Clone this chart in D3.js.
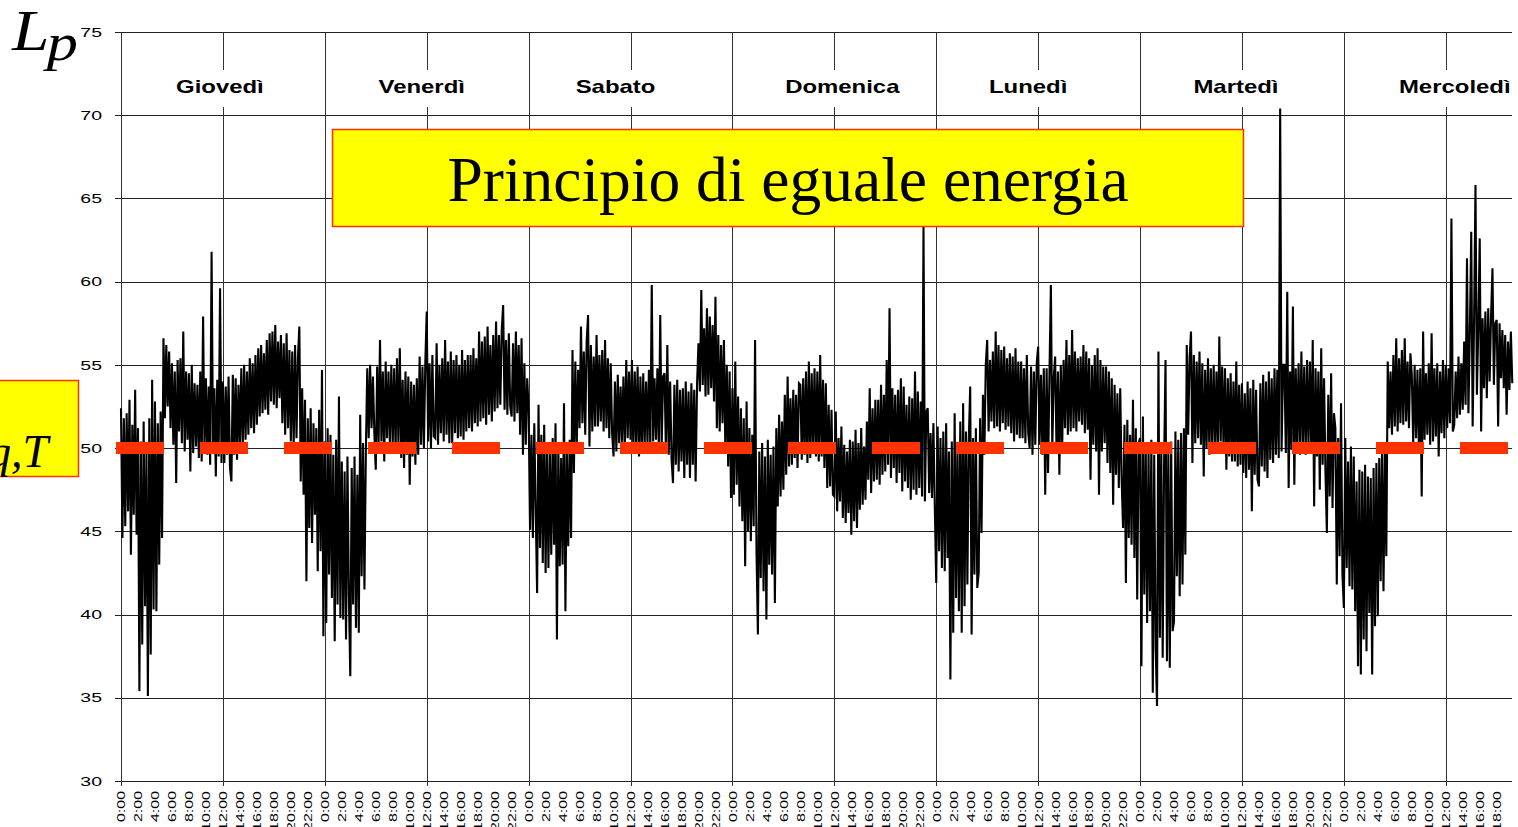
<!DOCTYPE html>
<html><head><meta charset="utf-8">
<script src="https://cdn.jsdelivr.net/npm/d3@7"></script>
<style>
html,body{margin:0;padding:0;background:#fff;overflow:hidden;}
svg{display:block;}
</style></head><body>
<svg id="chart" width="1518" height="827"></svg>
<script>
// ---------- data ----------
const days = ["Giovedì","Venerdì","Sabato","Domenica","Lunedì","Martedì","Mercoledì"];
const hourLabels = ["0:00","2:00","4:00","6:00","8:00","10:00","12:00","14:00","16:00","18:00","20:00","22:00"];
const yTicks = [30,35,40,45,50,55,60,65,70,75];
const leqValue = 50;
const titleText = "Principio di eguale energia";
const stepHours = 1 / 6; // one reading every 10 minutes

const thu = [52.4,44.6,51.8,45.3,52.1,46.2, 52.9,43.6,51.4,46.0,53.5,44.8, 51.2,35.4,50.4,38.2,51.6,40.5, 49.8,35.1,51.8,37.6,54.1,40.3, 52.8,40.2,51.5,43.0,52.2,44.6, 56.6,51.8,56.2,52.5,55.8,51.2, 55.1,50.2,54.6,47.9,55.3,51.0, 55.4,50.3,57.0,49.8,54.6,50.5, 54.5,48.6,55.0,49.7,53.9,50.1, 53.8,49.4,54.6,49.2,57.9,49.8, 54.2,49.6,53.7,49.0,61.8,50.2, 53.6,48.3,54.1,49.5,59.6,49.1, 54.0,49.1,53.7,49.6,54.3,48.8, 48.0,54.4,49.6,54.2,49.3,53.8, 50.2,54.8,49.9,55.0,50.5,54.6, 50.8,55.4,51.2,55.1,50.9,55.6, 51.4,56.0,51.9,56.2,52.1,55.7, 52.3,56.5,52.0,56.9,52.8,57.0, 52.6,57.4,52.4,56.4,53.0,56.8, 51.5,56.3,50.8,56.9,51.2,55.9, 50.4,55.8,50.1,56.2,50.6,55.4, 57.3,48.0,53.6,47.2,52.9,42.0, 51.8,45.2,52.4,44.3,51.5,46.0, 51.2,42.6,52.3,43.8,54.7,38.7];
const fri = [50.4,39.5,51.2,42.4,50.8,41.0, 49.6,38.4,50.5,40.6,53.1,39.8, 49.2,39.7,48.6,38.5,49.5,41.2, 36.3,48.8,40.6,49.5,39.2,48.4, 38.9,52.0,42.3,50.3,41.5,49.8, 54.8,50.6,55.0,51.2,54.3,50.9, 48.7,54.9,50.2,56.5,50.4,54.6, 49.2,55.2,50.6,54.6,50.1,55.0, 50.3,54.8,49.8,55.4,50.2,56.0, 49.4,54.1,48.8,54.6,49.6,54.3, 47.8,54.0,49.5,53.8,49.0,54.2, 49.6,55.5,50.2,54.9,50.0,55.1, 58.2,50.4,55.1,50.0,55.6,50.7, 50.6,56.3,50.2,55.0,50.9,55.4, 50.4,56.5,50.8,55.2,50.3,55.8, 50.3,55.3,50.9,55.6,50.6,55.0, 50.7,55.9,50.5,55.3,51.0,55.6, 51.2,55.6,51.0,56.0,51.5,55.4, 51.3,57.0,51.6,56.4,51.8,56.7, 51.4,57.3,52.0,56.2,51.6,56.8, 52.2,57.6,52.4,56.8,52.6,57.1, 58.6,52.3,56.5,52.0,56.9,52.5, 51.9,56.3,51.6,57.0,52.1,56.2, 50.8,56.6,49.6,55.1,50.2,54.2];
const sat = [52.3,45.1,50.8,44.6,51.5,46.3, 41.3,52.6,44.0,50.8,43.1,51.4, 42.5,50.1,42.8,49.7,43.6,50.6, 44.2,51.5,38.5,50.2,42.9,49.4, 43.0,52.7,40.2,49.8,44.1,50.5, 44.6,55.9,48.5,55.2,50.1,54.7, 51.2,57.3,51.5,55.8,50.8,56.4, 58.0,50.1,56.2,51.0,55.5,51.3, 56.8,51.3,55.6,51.6,55.9,51.0, 56.5,51.2,55.4,50.6,55.1,50.9, 49.5,54.0,49.8,54.4,50.3,53.7, 50.2,54.3,50.0,55.3,50.6,54.6, 50.5,55.3,49.8,54.6,50.1,54.9, 49.5,54.3,49.7,54.5,50.2,54.0, 50.2,54.7,50.0,59.8,50.4,54.2, 50.5,54.8,49.9,58.0,50.1,54.3, 54.5,49.8,56.2,49.6,54.0,49.3, 47.9,53.8,49.0,54.1,48.6,53.5, 49.2,53.6,48.2,54.0,49.0,53.4, 48.2,53.9,49.0,53.5,48.0,53.8, 56.3,53.4,59.5,53.8,57.2,53.1, 58.4,53.2,57.9,53.6,57.4,52.8, 59.1,51.2,56.8,51.0,56.2,51.5, 56.5,49.8,55.0,48.9,54.6,47.0];
const sun = [53.6,47.2,55.2,47.8,53.1,46.5, 52.4,45.6,51.8,42.9,52.8,45.0, 51.2,44.4,50.8,45.3,56.5,43.8, 38.8,49.8,42.2,50.3,41.4,49.5, 39.7,50.5,43.0,49.6,42.4,50.1, 40.7,51.2,46.5,52.0,47.1,51.6, 47.5,53.2,48.4,54.3,48.9,53.0, 49.0,53.5,49.4,53.2,48.8,53.9, 53.8,49.3,54.2,49.6,54.6,49.1, 55.2,49.4,54.5,49.8,54.8,49.5, 54.6,49.2,55.6,49.5,54.1,48.8, 53.9,47.6,52.6,47.7,52.3,47.2, 47.1,52.2,46.2,50.6,46.8,51.3, 45.8,50.2,45.5,49.8,46.1,50.5, 44.8,50.4,45.6,51.1,45.2,50.3, 46.3,51.2,46.6,50.1,46.9,51.6, 48.1,53.6,47.3,52.4,48.0,52.9, 48.1,52.9,47.8,53.8,48.4,53.2, 48.6,55.3,49.0,58.4,48.2,53.6, 48.8,53.2,47.9,53.5,48.5,54.2, 47.4,53.7,48.0,52.6,47.6,53.1, 46.9,53.0,47.5,54.6,47.2,53.4, 47.6,52.8,47.1,63.3,46.8,52.2, 52.4,47.3,50.9,47.0,51.5,46.4];
const mon = [41.9,51.3,43.8,50.6,42.8,51.0, 42.6,51.5,43.4,49.8,36.1,50.4, 38.9,52.1,41.0,50.2,40.2,51.6, 38.9,52.7,40.5,51.0,41.8,50.5, 53.7,38.8,50.6,42.4,51.2,41.6, 42.5,51.8,44.9,53.2,49.6,55.0, 56.5,51.0,55.3,51.6,55.8,51.2, 57.0,51.3,56.2,51.0,55.9,51.5, 56.1,51.1,55.4,51.3,55.7,50.9, 55.5,50.4,56.0,50.8,55.2,50.6, 55.2,50.6,54.8,50.3,55.6,50.9, 50.0,54.9,49.6,54.6,50.2,55.1, 56.1,50.2,54.4,49.6,54.8,47.2, 54.8,48.5,54.5,59.8,50.0,54.2, 55.5,49.8,54.6,48.4,55.0,50.1, 55.3,51.2,56.5,50.8,55.6,51.0, 57.1,51.2,55.8,51.0,55.4,51.6, 55.5,51.4,56.2,50.9,55.8,51.1, 55.4,48.1,55.0,50.2,55.6,49.8, 56.0,47.2,55.3,49.8,54.9,50.3, 54.9,49.1,54.6,48.5,54.2,46.6, 53.8,48.4,53.3,47.6,53.6,48.1, 45.2,51.4,41.9,51.7,44.6,50.8, 44.2,52.9,43.4,51.2,40.9,50.3];
const tue = [50.6,36.9,51.9,41.2,50.3,39.5, 49.8,40.2,50.5,35.3,49.6,38.1, 34.5,55.8,38.6,50.2,37.4,49.1, 55.3,37.2,49.8,36.8,50.4,39.0, 39.6,51.0,42.3,50.5,41.1,50.9, 41.8,51.2,43.6,56.2,50.8,55.4, 57.0,49.1,55.6,50.3,55.2,50.6, 55.8,50.2,55.1,48.3,54.7,50.0, 55.4,49.6,54.8,50.1,55.0,49.8, 54.6,49.8,56.7,50.4,54.9,49.9, 54.8,48.7,54.2,49.5,54.5,49.2, 54.0,49.2,55.2,48.9,53.8,49.0, 53.9,48.5,53.3,48.2,54.0,48.7, 53.6,46.2,54.1,48.4,53.5,48.1, 47.7,53.9,48.9,54.4,48.6,54.0, 48.2,54.6,49.3,54.2,49.1,54.8, 49.6,54.7,49.4,70.4,49.8,55.0, 55.0,49.7,59.4,47.6,54.6,49.9, 58.5,47.8,54.8,50.2,55.1,49.6, 55.8,50.1,54.9,49.6,55.3,50.0, 55.2,49.8,56.5,46.5,54.8,49.5, 54.6,47.5,56.0,49.0,54.2,48.6, 44.9,53.2,47.1,54.5,46.4,52.1, 51.2,41.8,50.6,43.5,52.7,42.4];
const wed = [40.4,50.6,42.8,49.2,41.7,50.1, 41.5,49.5,40.2,48.0,36.9,48.7, 36.4,48.6,38.5,49.0,37.8,48.3, 40.1,48.2,36.4,48.8,39.3,49.1, 39.9,49.4,42.0,50.2,41.4,49.7, 43.5,55.2,51.2,54.6,50.8,55.6, 51.3,56.6,51.0,55.4,51.5,55.9, 51.4,56.6,51.6,55.2,51.2,55.7, 54.4,50.3,55.0,50.6,54.7,50.1, 54.8,47.1,57.0,50.5,54.5,50.8, 55.1,50.2,56.9,50.4,54.8,50.7, 55.1,49.5,54.6,50.9,55.3,50.6, 55.0,51.2,54.8,51.5,63.8,51.0, 51.4,54.6,51.8,55.5,52.0,55.1, 52.3,56.4,52.6,61.4,52.1,56.9, 63.0,51.3,57.6,65.8,53.2,57.3, 62.6,51.0,57.8,53.6,58.2,53.0, 58.4,54.0,57.9,60.8,53.8,57.5, 57.7,51.3,57.5,54.2,57.1,53.6, 56.8,52.0,56.4,53.5,57.0,53.9];

// ---------- layout ----------
const series = [].concat(thu, fri, sat, sun, mon, tue, wed).map((v, i) => ({h: i * stepHours, v}));
const hEnd = 163.8;
const x = d3.scaleLinear().domain([0, hEnd]).range([121, 1512]);
const y = d3.scaleLinear().domain([30, 75]).range([781, 32]);
const svg = d3.select("#chart");
const sans = "Arial, 'Liberation Sans', sans-serif";
const serif = "'Times New Roman', 'Liberation Serif', serif";
const px = v => Math.round(v) + 0.5;

// horizontal gridlines
svg.append("g").selectAll("line").data(yTicks).join("line")
  .attr("x1", x(0) - 6).attr("x2", x(hEnd))
  .attr("y1", d => px(y(d))).attr("y2", d => px(y(d)))
  .attr("stroke", "#222").attr("stroke-width", 1);

// vertical gridlines every 12 h
const gridHours = d3.range(0, hEnd, 12);
svg.append("g").selectAll("line").data(gridHours).join("line")
  .attr("x1", d => px(x(d))).attr("x2", d => px(x(d)))
  .attr("y1", y(75)).attr("y2", y(30) + 5)
  .attr("stroke", "#333").attr("stroke-width", 1);

// y tick labels
svg.append("g").selectAll("g").data(yTicks).join("g")
  .attr("transform", d => `translate(102,${y(d)}) scale(1.5,1)`)
  .append("text").text(d => d)
  .attr("text-anchor", "end").attr("dy", "0.36em")
  .attr("font-family", sans).attr("font-size", 13).attr("fill", "#000");

// x tick labels
const labelHours = d3.range(0, hEnd - 1, 2);
svg.append("g").selectAll("g").data(labelHours).join("g")
  .attr("transform", d => `translate(${x(d)},791) rotate(-90) scale(1.45,1)`)
  .append("text").text(d => hourLabels[(d % 24) / 2])
  .attr("text-anchor", "end").attr("dy", "0.4em")
  .attr("font-family", sans).attr("font-size", 11).attr("fill", "#000");

// data line
svg.append("path").datum(series)
  .attr("d", d3.line().x(d => x(d.h)).y(d => y(d.v)))
  .attr("fill", "none").attr("stroke", "#000").attr("stroke-width", 2.1)
  .attr("stroke-linejoin", "miter");

// Leq dashed red line
svg.append("line")
  .attr("x1", x(0) - 5).attr("x2", x(hEnd) - 4)
  .attr("y1", y(leqValue)).attr("y2", y(leqValue))
  .attr("stroke", "#FF3300").attr("stroke-width", 12)
  .attr("stroke-dasharray", "48 36");

// day labels with white background
const labelShift = [-3, -5, -15, 8, -10, -6, 9];
const dg = svg.append("g").selectAll("g").data(days).join("g")
  .attr("transform", (d, i) => `translate(${x(i * 24 + 12) + labelShift[i]},93)`);
dg.each(function(d) {
  const g = d3.select(this);
  const inner = g.append("g").attr("transform", "scale(1.33,1)");
  const t = inner.append("text").text(d).attr("text-anchor", "middle")
    .attr("font-family", sans).attr("font-weight", "bold").attr("font-size", 18).attr("fill", "#000");
  const w = t.node().getComputedTextLength() * 1.33 + 10;
  g.insert("rect", ":first-child").attr("x", -w / 2).attr("y", -23).attr("width", w).attr("height", 37).attr("fill", "#fff");
});

// title box
svg.append("rect").attr("x", 332.5).attr("y", 129.5).attr("width", 911).attr("height", 97)
  .attr("fill", "#FFFF00").attr("stroke", "#FF3300").attr("stroke-width", 1.5);
svg.append("text").text(titleText).attr("x", 788).attr("y", 201).attr("text-anchor", "middle")
  .attr("font-family", serif).attr("font-size", 63.5).attr("fill", "#000");

// Leq,T box (partly off-canvas)
svg.append("rect").attr("x", -10).attr("y", 380.5).attr("width", 88.5).attr("height", 96)
  .attr("fill", "#FFFF00").attr("stroke", "#FF3300").attr("stroke-width", 1.5);
const lq = svg.append("text").attr("x", 48).attr("y", 467).attr("text-anchor", "end")
  .attr("font-family", serif).attr("font-style", "italic").attr("font-size", 46).attr("fill", "#000");
lq.append("tspan").text("L");
lq.append("tspan").text("eq,T");

// Lp label
const lp = svg.append("g").attr("transform", "translate(12,50) scale(1.2,1)");
lp.append("text").text("L").attr("font-family", serif).attr("font-style", "italic").attr("font-size", 56).attr("fill", "#000");
lp.append("text").text("p").attr("x", 29).attr("y", 10).attr("font-family", serif).attr("font-style", "italic").attr("font-size", 52).attr("fill", "#000");
</script>
</body></html>
